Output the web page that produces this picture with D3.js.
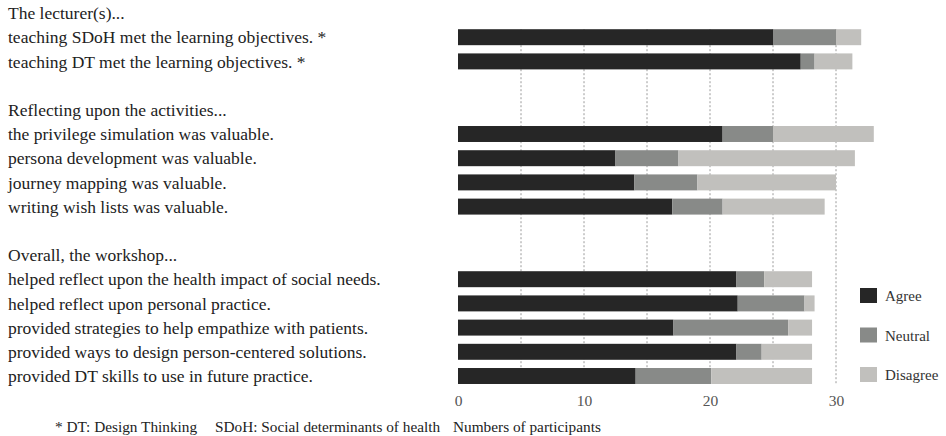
<!DOCTYPE html>
<meta charset="utf-8">
<style>
body { margin: 0; background: #fff; }
.grid line { stroke: #9a9a9a; stroke-dasharray: 2,2; }
</style>
<svg width="946" height="436"></svg>
<script src="https://d3js.org/d3.v7.min.js"></script>
<script>

// rows in drawing order, headers and blanks included
var slots = ["h1", "r1", "r2", "b1", "h2", "r3", "r4", "r5", "r6", "b2", "h3", "r7", "r8", "r9", "r10", "r11"];
var slotText = [
  "The lecturer(s)...",
  "teaching SDoH met the learning objectives. *",
  "teaching DT met the learning objectives. *",
  "",
  "Reflecting upon the activities...",
  "the privilege simulation was valuable.",
  "persona development was valuable.",
  "journey mapping was valuable.",
  "writing wish lists was valuable.",
  "",
  "Overall, the workshop...",
  "helped reflect upon the health impact of social needs.",
  "helped reflect upon personal practice.",
  "provided strategies to help empathize with patients.",
  "provided ways to design person-centered solutions.",
  "provided DT skills to use in future practice."
];

var items = ["r1", "r2", "r3", "r4", "r5", "r6", "r7", "r8", "r9", "r10", "r11"];
var agree    = [25, 27.2, 21, 12.5, 14, 17, 22.1, 22.2, 17.1, 22.1, 14.1];
var neutral  = [5, 1.1, 4, 5, 5, 4, 2.2, 5.3, 9.1, 2, 6];
var disagree = [2, 3, 8, 14, 11, 8.1, 3.8, 0.8, 1.9, 4, 8];

var keys = ["Agree", "Neutral", "Disagree"];
var colors = ["#262626", "#888a88", "#c1c0bd"];
var xTicks = [0, 10, 20, 30];
var gridTicks = [5, 10, 15, 20, 25, 30];

var serif = "'Liberation Serif', 'Times New Roman', serif";

var svg = d3.select("svg").style("font-family", serif);

var x = d3.scaleLinear().domain([0, 30]).range([458, 836]);
var y = d3.scaleBand().domain(slots).range([0.9, 388.1]).paddingInner(0.34).paddingOuter(0.17);
var color = d3.scaleOrdinal().domain(keys).range(colors);

var rows = items.map(function(id, i) {
  return { id: id, Agree: agree[i], Neutral: neutral[i], Disagree: disagree[i] };
});
var stack = d3.stack().keys(keys)(rows);

// dotted grid
svg.append("g")
  .attr("class", "grid")
  .selectAll("line")
  .data(gridTicks)
  .enter().append("line")
  .attr("x1", function(d) { return x(d); })
  .attr("x2", function(d) { return x(d); })
  .attr("y1", y("r1"))
  .attr("y2", y("r11") + y.bandwidth() + 1);

// bars
svg.append("g")
  .selectAll("g")
  .data(stack)
  .enter().append("g")
  .attr("fill", function(d) { return color(d.key); })
  .selectAll("rect")
  .data(function(d) { return d; })
  .enter().append("rect")
  .attr("x", function(d) { return x(d[0]); })
  .attr("y", function(d) { return y(d.data.id); })
  .attr("width", function(d) { return x(d[1]) - x(d[0]); })
  .attr("height", y.bandwidth());

// row labels
svg.append("g")
  .selectAll("text")
  .data(slots)
  .enter().append("text")
  .attr("x", 8)
  .attr("y", function(d) { return y(d) + y.bandwidth() / 2; })
  .attr("dy", "0.35em")
  .style("font-family", serif)
  .style("font-size", "17.5px")
  .style("fill", "#222")
  .text(function(d, i) { return slotText[i]; });

// x axis (no line, labels only)
var xAxis = svg.append("g")
  .attr("transform", "translate(0,392)")
  .call(d3.axisBottom(x).tickValues(xTicks).tickSize(0).tickPadding(3));
xAxis.select(".domain").remove();
xAxis.selectAll("text")
  .style("font-family", serif)
  .style("font-size", "15.5px")
  .style("fill", "#555");

function note(xPos, str) {
  svg.append("text")
    .attr("x", xPos).attr("y", 432)
    .style("font-family", serif)
    .style("font-size", "15.3px")
    .style("fill", "#222")
    .text(str);
}
note(453, "Numbers of participants");
note(55, "* DT: Design Thinking");
note(215, "SDoH: Social determinants of health");

// legend
var legend = svg.append("g")
  .selectAll("g")
  .data(keys)
  .enter().append("g")
  .attr("transform", function(d, i) { return "translate(860," + (288 + i * 39.5) + ")"; });
legend.append("rect")
  .attr("width", 17).attr("height", 15)
  .attr("fill", function(d) { return color(d); });
legend.append("text")
  .attr("x", 25).attr("y", 8)
  .attr("dy", "0.35em")
  .style("font-family", serif)
  .style("font-size", "15px")
  .style("fill", "#333")
  .text(function(d) { return d; });

</script>
